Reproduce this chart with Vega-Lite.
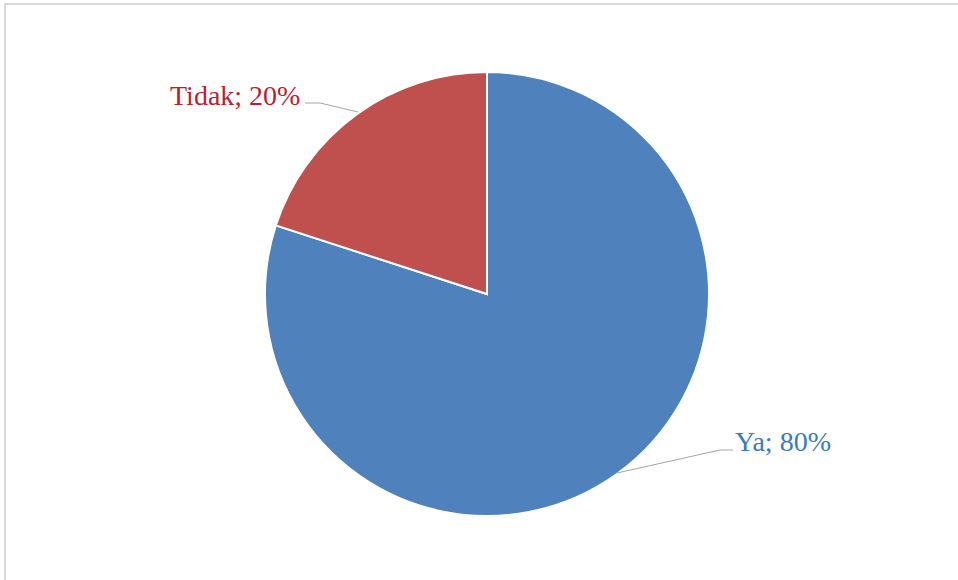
{
  "$schema": "https://vega.github.io/schema/vega-lite/v6.json",
  "width": 964,
  "height": 580,
  "autosize": {"type": "none"},
  "padding": {"left": 5, "top": 4, "right": 0, "bottom": 0},
  "background": "white",
  "config": {"view": {"stroke": "#d9d9d9", "strokeWidth": 2}},
  "datasets": {
    "slices": [
      {"label": "Ya", "pct": 80, "ord": 1},
      {"label": "Tidak", "pct": 20, "ord": 2}
    ],
    "leaders": [
      {"label": "Tidak", "seq": 1, "x": -182, "y": 191},
      {"label": "Tidak", "seq": 2, "x": -167, "y": 191},
      {"label": "Tidak", "seq": 3, "x": -129, "y": 182},
      {"label": "Ya", "seq": 1, "x": 130, "y": -179},
      {"label": "Ya", "seq": 2, "x": 233, "y": -156},
      {"label": "Ya", "seq": 3, "x": 246, "y": -156}
    ],
    "labels": [
      {"label": "Tidak", "text": "Tidak; 20%", "x": -317, "y": 189},
      {"label": "Ya", "text": "Ya; 80%", "x": 248, "y": -157}
    ]
  },
  "layer": [
    {
      "data": {"name": "slices"},
      "mark": {"type": "arc", "outerRadius": 222, "stroke": "white", "strokeWidth": 2},
      "encoding": {
        "theta": {"field": "pct", "type": "quantitative", "stack": true},
        "order": {"field": "ord", "type": "quantitative"},
        "color": {
          "field": "label",
          "type": "nominal",
          "scale": {"domain": ["Ya", "Tidak"], "range": ["#4F81BD", "#C0504D"]},
          "legend": null
        }
      }
    },
    {
      "data": {"name": "leaders"},
      "mark": {"type": "line", "stroke": "#a6a6a6", "strokeWidth": 1},
      "encoding": {
        "x": {"field": "x", "type": "quantitative", "scale": {"domain": [-482, 482], "nice": false, "zero": false}, "axis": null},
        "y": {"field": "y", "type": "quantitative", "scale": {"domain": [-290, 290], "nice": false, "zero": false}, "axis": null},
        "detail": {"field": "label"},
        "order": {"field": "seq", "type": "quantitative"}
      }
    },
    {
      "data": {"name": "labels"},
      "mark": {"type": "text", "align": "left", "baseline": "alphabetic", "font": "Liberation Serif", "fontSize": 28},
      "encoding": {
        "x": {"field": "x", "type": "quantitative", "scale": {"domain": [-482, 482], "nice": false, "zero": false}, "axis": null},
        "y": {"field": "y", "type": "quantitative", "scale": {"domain": [-290, 290], "nice": false, "zero": false}, "axis": null},
        "text": {"field": "text"},
        "color": {
          "field": "label",
          "type": "nominal",
          "scale": {"domain": ["Ya", "Tidak"], "range": ["#3A7BBF", "#BE1E2D"]},
          "legend": null
        }
      }
    }
  ],
  "resolve": {"scale": {"color": "independent"}}
}
